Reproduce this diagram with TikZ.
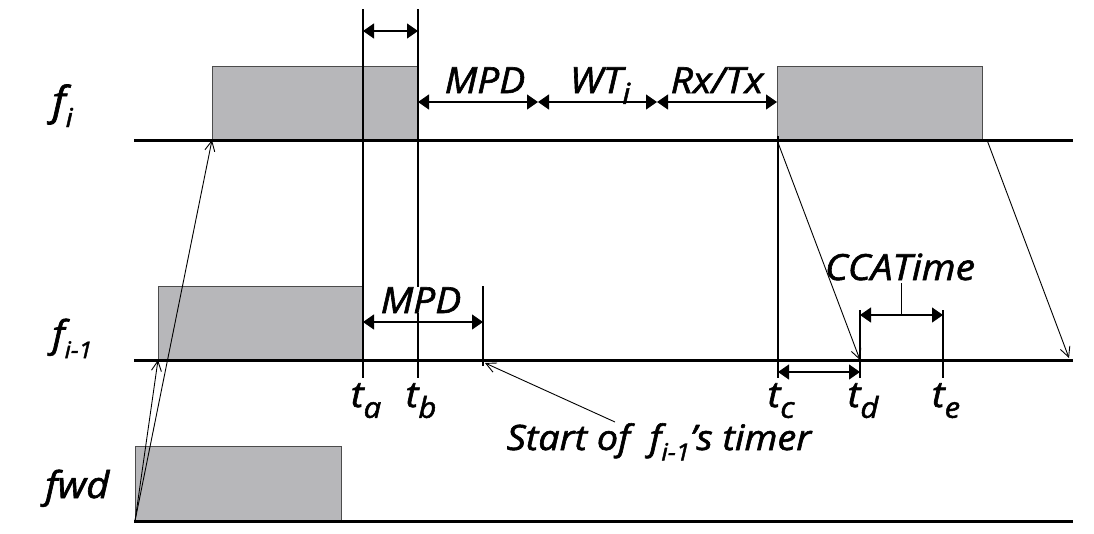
\documentclass[tikz,border=0pt]{standalone}
\usepackage{fontspec}
\setmainfont{Open Sans}
\newfontfamily\lblfont{Open Sans}[FakeBold=1.7, FakeStretch=1.08]
\usetikzlibrary{arrows.meta}
\definecolor{boxgray}{RGB}{183,183,186}
\newcommand{\sbs}[2][0.8]{\raisebox{-0.3em}{\scalebox{#1}{#2}}}
\begin{document}
\begin{tikzpicture}[x=1pt,y=-1pt,
  baseln/.style={line width=3pt},
  pkt/.style={draw=black!70, fill=boxgray, line width=0.8pt},
  vline/.style={line width=1.1pt},
  dim/.style={line width=1.1pt, {Triangle[length=11pt,width=15pt]}-{Triangle[length=11pt,width=15pt]}},
  sig/.style={line width=0.9pt, -{Straight Barb[length=10pt,width=10pt]}},
  lbl/.style={font=\lblfont\itshape\fontsize{36}{40}\selectfont, inner sep=0pt, anchor=base},
  bigl/.style={font=\lblfont\itshape\fontsize{37}{42}\selectfont, inner sep=0pt, anchor=base west},
]
\useasboundingbox (0,0) rectangle (1094,533);
% packets
\draw[pkt] (212,66) rectangle (418,140);
\draw[pkt] (777,66) rectangle (982,140);
\draw[pkt] (158,286) rectangle (363,360);
\draw[pkt] (135,446) rectangle (341,521);
% coordinates
\coordinate (L1s) at (134,140); \coordinate (L1e) at (1073,140);
\coordinate (L2s) at (134,360); \coordinate (L2e) at (1073,360);
\coordinate (L3s) at (134,521); \coordinate (L3e) at (1073,521);
\coordinate (taT) at (363,9);  \coordinate (taB) at (363,378);
\coordinate (tbT) at (418,9);  \coordinate (tbB) at (418,378);
\coordinate (tmT) at (483,286); \coordinate (tmB) at (483,366);
\coordinate (tcT) at (778,136); \coordinate (tcB) at (778,378);
\coordinate (tdT) at (860,310); \coordinate (tdB) at (860,378);
\coordinate (teT) at (943,310); \coordinate (teB) at (943,378);
% baselines
\draw[baseln] (L1s) -- (L1e);
\draw[baseln] (L2s) -- (L2e);
\draw[baseln] (L3s) -- (L3e);
% vertical markers
\draw[vline] (taT) -- (taB);
\draw[vline] (tbT) -- (tbB);
\draw[vline] (tmT) -- (tmB);
\draw[vline] (tcT) -- (tcB);
\draw[vline] (tdT) -- (tdB);
\draw[vline] (teT) -- (teB);
% labels
\node[bigl, font=\lblfont\itshape\fontsize{40}{44}\selectfont] (lfi) at (52,115) {f\sbs[0.65]{i}};
\node[bigl] (lfi1) at (52,347) {f\sbs[0.62]{i-1}};
\node[bigl] (lfwd) at (45,498) {fwd};
\node[lbl] (mpd1) at (485,93) {MPD};
\node[lbl] (wti) at (600,93) {WT\sbs{i}};
\node[lbl] (rxtx) at (717,93) {Rx/Tx};
\node[lbl, fill=white] (mpd2) at (421,313) {MPD};
\node[lbl] (cca) at (900,280) {CCATime};
\node[lbl] (ta) at (366,407) {t\sbs{a}};
\node[lbl] (tb) at (421,407) {t\sbs{b}};
\node[lbl] (tc) at (781,407) {t\sbs{c}};
\node[lbl] (td) at (863,407) {t\sbs{d}};
\node[lbl] (te) at (946,407) {t\sbs{e}};
\node[lbl, font=\lblfont\itshape\fontsize{35}{40}\selectfont] (start) at (659,450) {Start of\ \ f\sbs[0.68]{i-1}’s timer};
% dimension arrows
\coordinate (d1a) at (363,31); \coordinate (d1b) at (418,31);
\draw[dim] (d1a) -- (d1b);
\coordinate (p0) at (418,102); \coordinate (p1) at (538,102);
\coordinate (p2) at (657,102); \coordinate (p3) at (777,102);
\draw[dim] (p0) -- (p1);
\draw[dim] (p1) -- (p2);
\draw[dim] (p2) -- (p3);
\coordinate (q0) at (363,322); \coordinate (q1) at (483,322);
\draw[dim] (q0) -- (q1);
\coordinate (r0) at (778,372); \coordinate (r1) at (860,372);
\draw[dim] (r0) -- (r1);
\coordinate (s0) at (860,315); \coordinate (s1) at (943,315);
\coordinate (sm) at (901.5,315); \coordinate (st) at (901.5,283);
\draw[dim] (s0) -- (s1);
\draw[vline] (st) -- (sm);
% signal arrows
\coordinate (o) at (135,521);
\coordinate (fiA) at (212,140);
\coordinate (fi1A) at (158,360);
\coordinate (c1) at (777,140);
\coordinate (c2) at (860,360);
\coordinate (e1) at (987,140);
\coordinate (e2) at (1069,358);
\coordinate (sA) at (615,422);
\coordinate (sB) at (485,363);
\draw[sig] (o) -- (fiA);
\draw[sig] (o) -- (fi1A);
\draw[sig] (c1) -- (c2);
\draw[sig] (e1) -- (e2);
\draw[sig] (sA) -- (sB);
\end{tikzpicture}
\end{document}
